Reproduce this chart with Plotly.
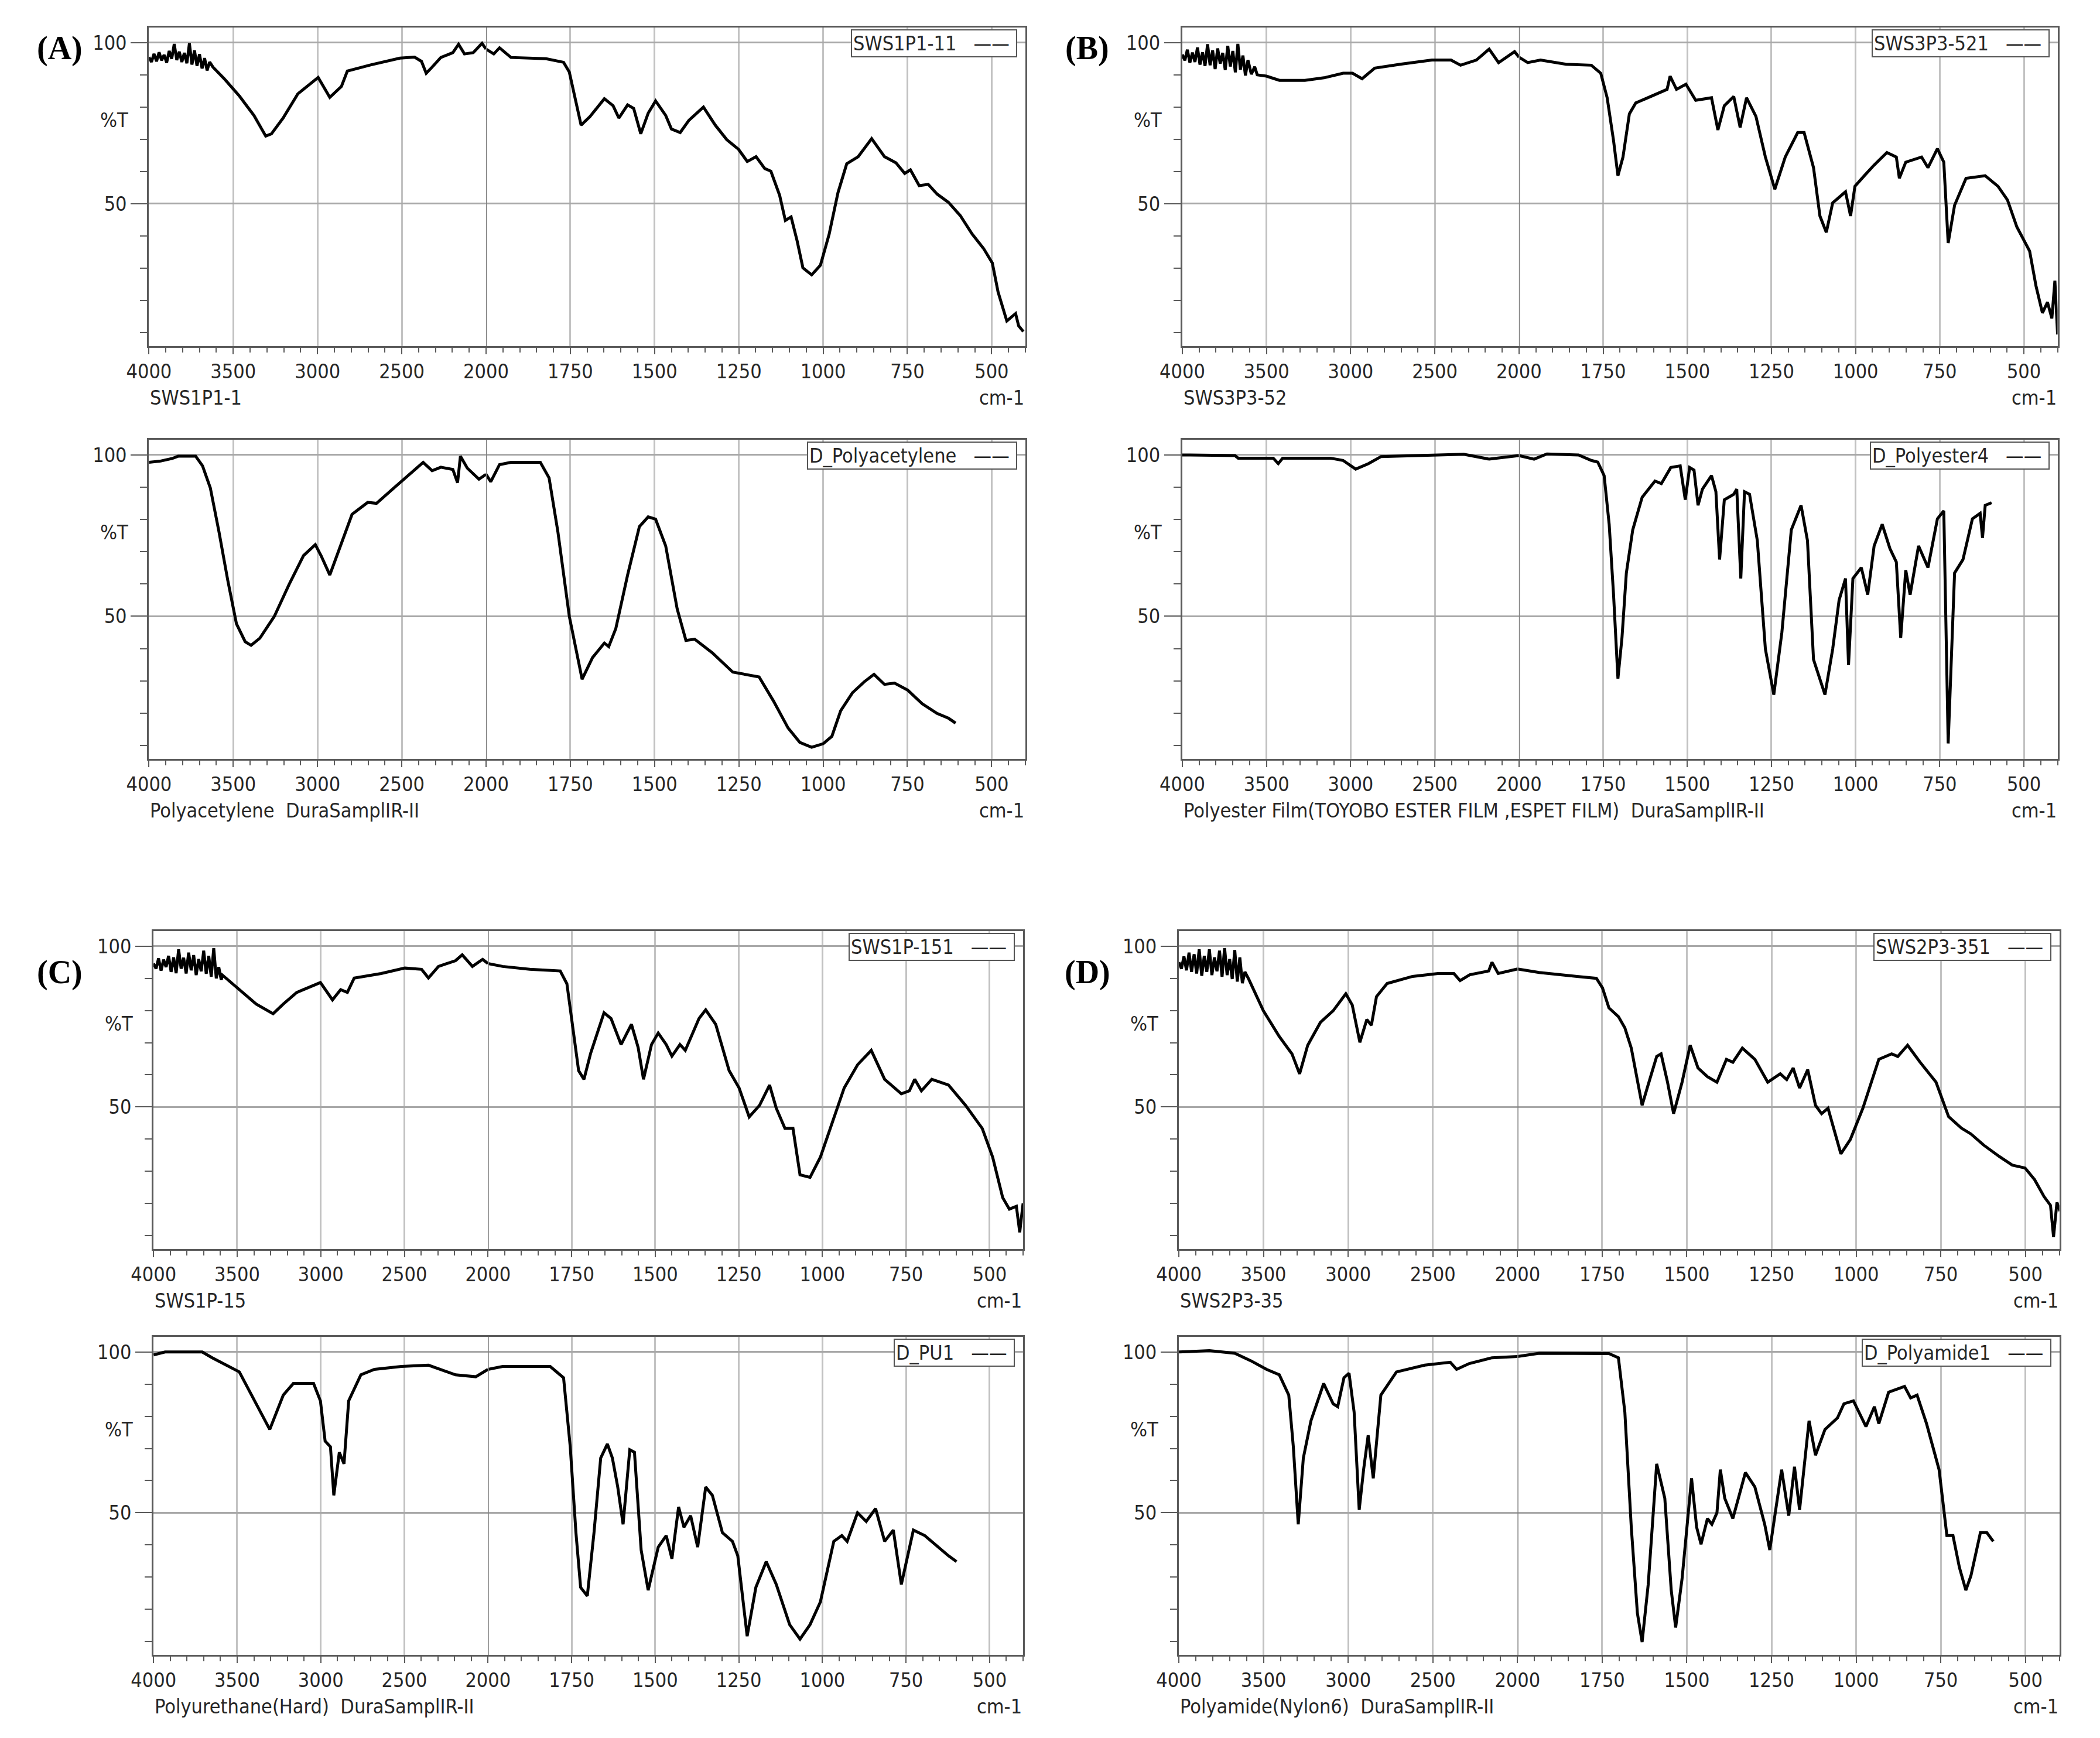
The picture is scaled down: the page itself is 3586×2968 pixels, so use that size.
import plotly.graph_objects as go

W, H = 3586, 2968
PAD = 8  # default page margin around the plot div

# ---- spectra: wavenumber (cm-1) and %T ----
sws1p1_wn = [4000, 3985, 3970, 3955, 3940, 3925, 3910, 3895, 3880, 3865, 3850, 3835, 3820, 3805, 3790, 3775,
             3760, 3745, 3730, 3715, 3700, 3685, 3670, 3655, 3640, 3620, 3550, 3463,
             3377, 3307, 3273, 3204, 3117, 2996, 2927, 2858, 2823, 2685, 2511, 2424, 2383, 2355, 2320, 2268,
             2197, 2163, 2128, 2076, 2024, 2000, 1977, 1960, 1926, 1822, 1770, 1753, 1739, 1718, 1692, 1666,
             1649, 1623, 1606, 1580, 1562, 1541, 1519, 1497, 1467, 1450, 1424, 1398, 1355, 1320, 1286, 1251,
             1225, 1199, 1173, 1155, 1129, 1112, 1095, 1077, 1060, 1034, 1008, 982, 956, 930, 896, 856, 818,
             784, 758, 741, 715, 688, 662, 628, 593, 558, 524, 498, 481, 455, 429, 420, 406]
sws1p1_t = [95.5, 94.0, 96.5, 94.2, 97.0, 94.5, 96.2, 93.8, 97.4, 95.0, 99.6, 94.6, 97.2, 94.0, 96.8, 93.6,
            99.8, 93.2, 97.6, 92.8, 96.4, 92.0, 95.2, 91.4, 94.0, 92.4, 88.6, 83.4,
            77.4, 71.0, 71.7, 76.6, 84.1, 89.2, 83.0, 86.4, 91.2, 93.1, 95.2, 95.5, 94.2, 90.5, 92.4, 95.4,
            96.9, 99.5, 96.5, 96.9, 99.8, 98.0, 96.5, 98.4, 95.4, 95.0, 93.9, 90.9, 84.1, 74.4, 77.0, 80.4,
            82.6, 80.4, 76.6, 80.7, 79.6, 71.7, 78.1, 81.9, 77.4, 73.2, 72.1, 75.9, 80.0, 74.4, 69.9, 66.9,
            63.1, 64.6, 60.9, 60.1, 52.6, 44.8, 45.9, 38.4, 30.1, 27.9, 30.9, 40.6, 53.4, 62.4, 64.6, 70.2, 64.6,
            62.7, 59.4, 60.5, 55.6, 56.0, 53.0, 50.4, 46.3, 40.6, 36.1, 31.6, 22.6, 13.6, 15.9, 12.1, 10.3]

pacet_wn = [4000, 3931, 3862, 3827, 3723, 3682, 3636, 3585, 3533, 3481, 3429, 3394, 3342, 3256, 3169, 3083,
            3013, 2979, 2927, 2858, 2795, 2702, 2650, 2546, 2442, 2373, 2320, 2268, 2197, 2169, 2152, 2111,
            2042, 2000, 1986, 1960, 1926, 1839, 1813, 1787, 1753, 1715, 1684, 1649, 1636, 1615, 1580, 1545,
            1519, 1497, 1467, 1433, 1407, 1381, 1329, 1268, 1234, 1190, 1147, 1104, 1069, 1034, 1000, 974,
            948, 913, 878, 849, 818, 788, 749, 706, 662, 628, 607]
pacet_t = [97.7, 98.1, 98.9, 99.6, 99.6, 96.6, 89.8, 76.3, 61.3, 47.7, 42.1, 41.0, 43.2, 50.0, 59.8, 68.8,
           72.2, 68.8, 62.8, 72.6, 81.6, 85.3, 85.0, 89.8, 94.4, 97.7, 95.1, 96.2, 95.5, 91.4, 99.6, 95.9,
           92.5, 94.0, 91.7, 97.0, 97.7, 97.7, 92.9, 76.3, 50.0, 30.5, 37.2, 41.7, 40.6, 46.2, 62.8, 77.8,
           80.8, 80.1, 71.8, 52.3, 42.5, 42.9, 38.7, 32.7, 32.0, 31.2, 23.7, 15.4, 10.9, 9.4, 10.5, 12.8,
           20.7, 26.3, 29.7, 32.0, 28.9, 29.3, 27.1, 22.9, 19.9, 18.4, 16.9]

sws3p3_wn = [4000, 3985, 3970, 3955, 3940, 3925, 3910, 3895, 3880, 3865, 3850, 3835, 3820, 3805, 3790, 3775,
             3760, 3745, 3730, 3715, 3700, 3685, 3670, 3655, 3640, 3625, 3610, 3590, 3570, 3555,
             3500, 3423, 3272, 3158, 3045, 2989,
             2932, 2857, 2706, 2517, 2404, 2347, 2253, 2177, 2121, 2026, 2000, 1974, 1936, 1860, 1785, 1757,
             1738, 1719, 1706, 1691, 1672, 1653, 1617, 1560, 1551, 1532, 1504, 1475, 1428, 1409, 1390, 1362,
             1343, 1324, 1296, 1268, 1240, 1209, 1172, 1153, 1125, 1106, 1087, 1068, 1040, 1030, 1015, 1002,
             974, 945, 907, 879, 870, 851, 804, 785, 757, 738, 725, 706, 672, 615, 577, 549, 521, 483, 464,
             445, 430, 417, 408, 400]
sws3p3_t = [96.3, 94.5, 97.8, 93.8, 96.9, 94.0, 98.5, 93.2, 97.0, 92.8, 99.5, 93.0, 97.6, 91.8, 98.2, 93.5,
            96.8, 91.5, 99.0, 92.6, 97.4, 90.8, 99.6, 91.6, 96.0, 89.8, 94.6, 90.2, 92.5, 90.0,
            89.6, 88.3, 88.3, 89.1, 90.5, 90.5,
            88.8, 92.1, 93.3, 94.6, 94.6, 93.0, 94.6, 98.0, 93.8, 97.2, 95.5, 93.8, 94.6, 93.3, 93.0, 90.5,
            82.9, 69.6, 58.7, 64.5, 77.9, 81.3, 82.9, 85.5, 89.6, 85.5, 87.1, 82.1, 82.9, 72.9, 80.4, 83.3,
            73.7, 82.9, 77.1, 64.5, 54.5, 64.5, 72.1, 72.1, 61.2, 46.2, 41.1, 50.3, 52.8, 53.7, 46.2, 55.4,
            58.7, 62.0, 65.9, 64.5, 57.9, 62.9, 64.5, 61.2, 67.1, 62.9, 37.8, 49.5, 57.9, 58.7, 55.4, 51.2, 42.8,
            35.3, 24.4, 16.1, 19.4, 14.4, 26.1, 9.4]

pester_wn = [4000, 3687, 3668, 3460, 3430, 3404, 3121, 3045, 2970, 2894, 2819, 2517, 2328, 2177, 2000, 1955,
             1917, 1823, 1785, 1766, 1747, 1732, 1719, 1706, 1694, 1681, 1662, 1634, 1596, 1577, 1549, 1521,
             1506, 1493, 1480, 1468, 1455, 1428, 1415, 1404, 1390, 1362, 1353, 1341, 1330, 1315, 1292, 1268,
             1243, 1219, 1191, 1162, 1143, 1125, 1091, 1068, 1049, 1030, 1021, 1008, 983, 964, 945, 921, 898,
             879, 866, 851, 838, 813, 785, 757, 738, 725, 706, 681, 653, 630, 623, 615, 596]
pester_t = [100.0, 99.8, 99.0, 99.0, 97.3, 99.0, 99.0, 98.3, 95.6, 97.3, 99.5, 99.8, 100.2, 98.7, 99.8, 98.7,
            100.3, 100.0, 98.3, 97.8, 93.6, 78.5, 56.7, 30.7, 43.3, 63.4, 76.8, 86.9, 91.9, 91.1, 96.1, 96.6,
            86.1, 96.1, 95.3, 84.4, 89.4, 93.6, 88.6, 67.6, 86.1, 87.8, 89.4, 61.7, 88.6, 87.8, 73.5, 39.9,
            25.7, 45.0, 76.8, 84.4, 73.5, 36.6, 25.7, 39.9, 55.0, 61.7, 34.9, 61.7, 65.1, 56.7, 71.8, 78.5, 71.0,
            66.8, 43.3, 64.3, 56.7, 71.8, 65.1, 80.2, 82.7, 10.6, 63.4, 67.6, 80.2, 81.9, 74.3, 84.4, 85.2]

sws1p_wn = [4000, 3985, 3970, 3955, 3940, 3925, 3910, 3895, 3880, 3865, 3850, 3835, 3820, 3805, 3790, 3775,
            3760, 3745, 3730, 3715, 3700, 3685, 3670, 3655, 3640, 3625, 3610, 3595, 3588,
            3487, 3386, 3285, 3224, 3144,
            3002, 2930, 2881, 2841, 2800, 2639, 2497, 2397, 2356, 2296, 2194, 2154, 2093, 2032, 2000, 1956,
            1875, 1784, 1764, 1744, 1729, 1713, 1693, 1673, 1653, 1632, 1602, 1571, 1551, 1535, 1511, 1491,
            1467, 1450, 1426, 1410, 1369, 1349, 1319, 1279, 1249, 1219, 1188, 1158, 1138, 1112, 1088, 1067,
            1037, 1006, 976, 935, 895, 854, 814, 764, 740, 724, 704, 673, 623, 572, 522, 491, 461, 441, 420,
            410, 400]
sws1p_t = [94.6, 93.0, 96.2, 92.4, 95.8, 93.5, 97.0, 92.0, 96.5, 91.6, 99.0, 93.0, 96.4, 91.5, 98.0, 92.5,
           97.2, 91.0, 96.0, 92.2, 98.6, 91.4, 97.0, 90.5, 99.4, 90.0, 93.5, 89.5, 91.0,
           86.5, 82.0, 79.0, 82.0, 85.6,
           88.7, 83.3, 86.5, 85.6, 90.1, 91.5, 93.2, 92.8, 90.1, 93.7, 95.5, 97.3, 93.7, 95.9, 94.6, 93.7,
           92.8, 92.3, 88.3, 72.1, 61.3, 58.6, 66.7, 73.0, 79.3, 77.5, 69.4, 75.7, 68.5, 58.6, 69.4, 73.0,
           69.4, 65.8, 69.4, 67.6, 77.5, 80.2, 75.7, 61.3, 55.9, 46.9, 50.5, 56.8, 49.6, 43.3, 43.3, 28.9,
           28.1, 34.4, 43.3, 55.9, 63.1, 67.6, 58.6, 54.1, 55.0, 58.6, 55.0, 58.6, 56.8, 50.5, 43.3, 34.4, 21.8,
           18.2, 19.1, 11.0, 20.0]

pu_wn = [4000, 3931, 3709, 3649, 3487, 3386, 3305, 3224, 3164, 3043, 3002, 2974, 2942, 2922, 2889, 2861,
         2833, 2760, 2679, 2518, 2356, 2194, 2073, 2000, 1956, 1814, 1774, 1754, 1737, 1723, 1703, 1683,
         1663, 1643, 1628, 1612, 1596, 1576, 1562, 1542, 1521, 1491, 1467, 1450, 1430, 1414, 1394, 1373,
         1349, 1329, 1299, 1269, 1253, 1225, 1199, 1168, 1138, 1098, 1067, 1037, 1006, 966, 942, 926, 895,
         869, 841, 814, 788, 764, 728, 694, 653, 623, 599]
pu_t = [99.1, 100.0, 100.0, 98.2, 93.8, 83.9, 75.9, 86.6, 90.2, 90.2, 84.8, 72.3, 70.5, 55.4, 68.8, 65.2,
        84.8, 92.9, 94.6, 95.5, 95.9, 92.9, 92.3, 94.6, 95.5, 95.5, 92.0, 70.5, 43.8, 26.8, 24.1, 43.8,
        67.0, 71.4, 67.0, 58.0, 46.4, 69.6, 68.8, 38.4, 25.9, 39.3, 42.9, 35.7, 51.8, 45.5, 49.1, 39.3,
        58.0, 55.4, 43.8, 41.1, 36.6, 11.6, 26.8, 34.8, 27.7, 15.2, 10.7, 15.2, 22.3, 41.1, 42.9, 41.1, 50.0,
        47.3, 51.3, 41.1, 44.6, 27.7, 44.6, 42.9, 39.3, 36.6, 34.8]

sws2p3_wn = [4000, 3985, 3970, 3955, 3940, 3925, 3910, 3895, 3880, 3865, 3850, 3835, 3820, 3805, 3790, 3775,
             3760, 3745, 3730, 3715, 3700, 3685, 3670, 3655, 3640, 3625, 3610, 3587,
             3501, 3407, 3332, 3287, 3239, 3164,
             3089, 3014, 2976, 2931, 2890, 2863, 2833, 2770, 2620, 2470, 2376, 2339, 2282, 2170, 2151, 2114,
             2000, 1936, 1824, 1767, 1749, 1730, 1702, 1683, 1664, 1646, 1632, 1617, 1589, 1576, 1557, 1539,
             1514, 1490, 1467, 1439, 1411, 1383, 1364, 1336, 1299, 1261, 1224, 1205, 1186, 1167, 1143, 1120,
             1102, 1083, 1045, 1017, 980, 933, 895, 877, 848, 811, 764, 727, 689, 661, 623, 576, 539, 501,
             473, 445, 426, 417, 407, 398]
sws2p3_t = [95.0, 93.0, 96.8, 92.5, 98.0, 92.0, 97.5, 91.5, 99.0, 90.8, 97.0, 92.0, 99.0, 91.0, 96.5, 92.2,
            98.6, 90.5, 99.4, 91.0, 96.0, 89.8, 98.8, 89.0, 96.5, 88.5, 92.0, 89.7,
            79.9, 71.9, 66.5, 60.3, 69.2, 76.3,
            79.9, 85.2, 81.7, 70.1, 77.2, 75.4, 84.3, 88.4, 90.6, 91.5, 91.5, 89.3, 91.1, 92.3, 95.0, 91.5,
            92.9, 91.8, 90.6, 90.0, 87.0, 80.8, 78.1, 74.6, 68.3, 57.7, 50.5, 55.9, 65.7, 66.5, 57.7, 47.9,
            57.7, 69.2, 62.1, 59.4, 57.7, 64.8, 63.9, 68.3, 64.8, 57.7, 60.3, 58.5, 62.1, 55.9, 61.6, 50.5,
            47.9, 49.6, 35.4, 39.9, 49.6, 64.8, 66.5, 65.7, 69.2, 63.9, 57.7, 47.0, 43.4, 41.6, 38.1, 34.5, 31.9,
            31.0, 27.4, 22.1, 19.4, 9.6, 20.3, 17.6]

nylon_wn = [4000, 3820, 3670, 3576, 3482, 3407, 3351, 3324, 3295, 3265, 3220, 3145, 3089, 3062, 3025, 2995,
            2965, 2935, 2909, 2882, 2852, 2807, 2715, 2548, 2397, 2360, 2285, 2151, 2000, 1936, 1730, 1702,
            1683, 1664, 1646, 1632, 1614, 1589, 1565, 1546, 1533, 1514, 1486, 1471, 1458, 1439, 1426, 1411,
            1401, 1388, 1364, 1327, 1299, 1270, 1255, 1233, 1220, 1199, 1182, 1167, 1139, 1120, 1092, 1055,
            1036, 1008, 971, 946, 933, 904, 857, 839, 820, 792, 755, 732, 714, 695, 676, 661, 633, 614, 595]
nylon_t = [100.0, 100.4, 99.6, 97.3, 94.6, 92.9, 86.6, 70.5, 46.4, 67.0, 78.6, 90.2, 83.9, 83.0, 92.0, 93.4,
           81.3, 50.9, 63.4, 74.1, 60.7, 86.6, 93.8, 95.9, 96.8, 94.6, 96.4, 98.2, 98.6, 99.6, 99.5, 98.2,
           81.3, 45.5, 18.8, 9.8, 27.7, 65.2, 54.5, 25.9, 14.3, 29.5, 60.7, 45.5, 40.2, 48.2, 46.4, 50.0,
           63.4, 54.5, 48.2, 62.5, 58.0, 46.4, 38.4, 54.5, 63.4, 49.1, 64.3, 50.9, 78.6, 67.9, 75.9, 79.5,
           83.9, 84.8, 76.8, 83.0, 77.7, 87.5, 89.3, 85.7, 86.6, 77.7, 63.4, 42.9, 42.9, 33.0, 25.9, 30.4, 43.8,
           43.8, 41.1]

# panel frames in page pixels: (left, right, top, bottom)
panels = [
    dict(wn=sws1p1_wn, t=sws1p1_t, sub="SWS1P1-1", leg="SWS1P1-11", box=(220, 1750, 47, 591)),
    dict(wn=pacet_wn, t=pacet_t, sub="Polyacetylene\u00a0\u00a0DuraSamplIR-II", leg="D_Polyacetylene",
         box=(220, 1750, 751, 1296)),
    dict(wn=sws3p3_wn, t=sws3p3_t, sub="SWS3P3-52", leg="SWS3P3-521", box=(2024, 3552, 47, 591)),
    dict(wn=pester_wn, t=pester_t,
         sub="Polyester Film(TOYOBO ESTER FILM ,ESPET FILM)\u00a0\u00a0DuraSamplIR-II", leg="D_Polyester4",
         box=(2024, 3552, 751, 1296)),
    dict(wn=sws1p_wn, t=sws1p_t, sub="SWS1P-15", leg="SWS1P-151", box=(228, 1746, 1590, 2133)),
    dict(wn=pu_wn, t=pu_t, sub="Polyurethane(Hard)\u00a0\u00a0DuraSamplIR-II", leg="D_PU1",
         box=(228, 1746, 2283, 2826)),
    dict(wn=sws2p3_wn, t=sws2p3_t, sub="SWS2P3-35", leg="SWS2P3-351", box=(2018, 3555, 1590, 2133)),
    dict(wn=nylon_wn, t=nylon_t, sub="Polyamide(Nylon6)\u00a0\u00a0DuraSamplIR-II", leg="D_Polyamide1",
         box=(2018, 3555, 2283, 2826)),
]
letters = [("(A)", 64, 83), ("(B)", 1858, 83), ("(C)", 64, 1660), ("(D)", 1858, 1660)]

FW, FH = W - 2 * PAD, H - 2 * PAD


def px(x):
    return (x - PAD) / FW


def py(y):
    return 1 - (y - PAD) / FH


FONT = "DejaVu Sans Condensed, Liberation Sans Narrow, Liberation Sans, sans-serif"
TXT = "#262626"
FRAME = "#5a5a5a"
YRANGE = [5.8, 104.7]
SPLIT = 2000.0 / 5200.0  # 4000-2000 shown at half the scale of 2000-400

fig = go.Figure()
annotations = []
shapes = []

for k, p in enumerate(panels):
    L, R = 2 * k + 1, 2 * k + 2
    x0, x1, y0, y1 = p["box"]
    xs = x0 + (x1 - x0) * SPLIT
    ydom = [py(y1), py(y0)]
    xl = "x" if L == 1 else f"x{L}"
    yl = "y" if L == 1 else f"y{L}"
    xr, yr = f"x{R}", f"y{R}"

    left = [(w, v) for w, v in zip(p["wn"], p["t"]) if w >= 2000]
    right = [(w, v) for w, v in zip(p["wn"], p["t"]) if w <= 2000]
    for pts, xa, ya in ((left, xl, yl), (right, xr, yr)):
        fig.add_trace(go.Scatter(
            x=[a for a, _ in pts], y=[b for _, b in pts], mode="lines",
            line=dict(color="black", width=5), xaxis=xa, yaxis=ya,
            showlegend=False, hoverinfo="skip"))

    tf = dict(family=FONT, size=34, color=TXT)
    xcommon = dict(ticks="outside", ticklen=11, tickwidth=2, tickcolor=FRAME,
                   showline=True, linecolor=FRAME, linewidth=3, mirror=True,
                   showgrid=True, gridcolor="#c2c2c2", gridwidth=3, zeroline=False, tickfont=tf)
    fig.layout[("xaxis" if L == 1 else f"xaxis{L}")] = dict(
        xcommon, domain=[px(x0), px(xs)], range=[4000, 2000], anchor=yl,
        tickmode="array", tickvals=[4000, 3500, 3000, 2500, 2000],
        minor=dict(dtick=100, tick0=0, ticklen=8, tickcolor=FRAME, tickwidth=2, showgrid=False))
    fig.layout[f"xaxis{R}"] = dict(
        xcommon, domain=[px(xs), px(x1)], range=[2000, 400], anchor=yr,
        tickmode="array", tickvals=[1750, 1500, 1250, 1000, 750, 500],
        minor=dict(dtick=50, tick0=0, ticklen=8, tickcolor=FRAME, tickwidth=2, showgrid=False))

    ycommon = dict(domain=ydom, range=YRANGE, tickmode="array", tickvals=[50, 100],
                   showgrid=True, gridcolor="#a8a8a8", gridwidth=3, zeroline=False,
                   showline=True, linecolor=FRAME, linewidth=3)
    fig.layout[("yaxis" if L == 1 else f"yaxis{L}")] = dict(
        ycommon, anchor=xl, ticks="outside", ticklen=28, tickwidth=2, tickcolor=FRAME, tickfont=tf,
        minor=dict(dtick=10, tick0=0, ticklen=12, tickcolor=FRAME, tickwidth=2, showgrid=False))
    fig.layout[f"yaxis{R}"] = dict(ycommon, anchor=xr, side="right", ticks="", showticklabels=False)

    # darker break line at 2000 cm-1
    shapes.append(dict(type="line", xref=xr, x0=2000, x1=2000, yref=f"{yr} domain", y0=0, y1=1,
                       line=dict(color="#808080", width=3)))

    annotations += [
        dict(text="%T", xref="paper", x=px(x0 - 34), xanchor="right", yref=yl, y=76,
             showarrow=False, font=tf),
        dict(text=p["sub"], xref="paper", x=px(x0), xanchor="left", yref="paper",
             y=py(y1 + 88), yanchor="middle", showarrow=False, font=tf),
        dict(text="cm-1", xref="paper", x=px(x1), xanchor="right", yref="paper",
             y=py(y1 + 88), yanchor="middle", showarrow=False, font=tf),
        dict(text=p["leg"] + "\u00a0\u00a0\u00a0——\u00a0", xref="paper", x=px(x1 - 14),
             xanchor="right", yref="paper", y=py(y0 + 3), yanchor="top", showarrow=False,
             font=tf, bgcolor="white", bordercolor="#555555", borderwidth=2, borderpad=2),
    ]

for lab, lx, ly in letters:
    annotations.append(dict(text=f"<b>{lab}</b>", xref="paper", x=px(lx), yref="paper", y=py(ly),
                            xanchor="center", yanchor="middle", showarrow=False,
                            font=dict(family="Liberation Serif, Times New Roman, serif", size=56,
                                      color="black")))

fig.update_layout(width=FW, height=FH, margin=dict(l=0, r=0, t=0, b=0),
                  paper_bgcolor="white", plot_bgcolor="white",
                  annotations=annotations, shapes=shapes, showlegend=False)

fig.write_html("out.html")
